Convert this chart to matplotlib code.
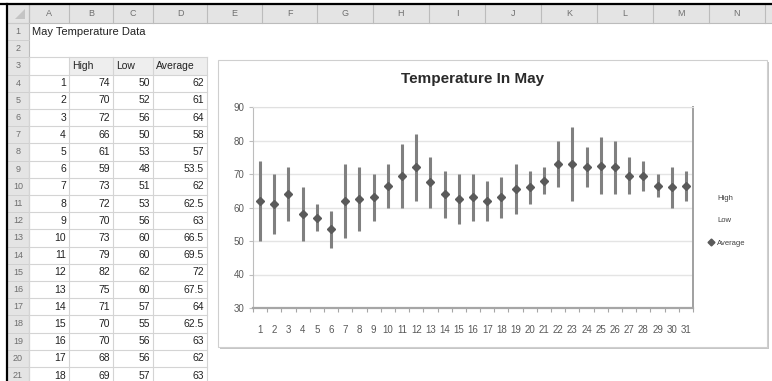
import matplotlib
matplotlib.use('Agg')
import matplotlib.pyplot as plt
from matplotlib.patches import Rectangle, Polygon
from matplotlib.lines import Line2D

plt.rcParams['font.family'] = ['Liberation Sans', 'DejaVu Sans']

days = list(range(1, 32))
high = [74, 70, 72, 66, 61, 59, 73, 72, 70, 73, 79, 82, 75, 71, 70, 70, 68, 69,
        73, 71, 72, 80, 84, 78, 81, 80, 75, 74, 70, 72, 71]
low = [50, 52, 56, 50, 53, 48, 51, 53, 56, 60, 60, 62, 60, 57, 55, 56, 56, 57,
       58, 61, 64, 66, 62, 66, 64, 64, 64, 65, 63, 60, 62]
average = [62, 61, 64, 58, 57, 53.5, 62, 62.5, 63, 66.5, 69.5, 72, 67.5, 64, 62.5, 63, 62, 63,
           65.5, 66, 68, 73, 73, 72, 72.5, 72, 69.5, 69.5, 66.5, 66, 66.5]
sheet_title = 'May Temperature Data'
headers = ['High', 'Low', 'Average']
col_letters = list('ABCDEFGHIJKLMN')
y_ticks = [30, 40, 50, 60, 70, 80, 90]
rows_visible = 18

W, H = 772, 381
fig = plt.figure(figsize=(W / 100, H / 100), dpi=100)

# spreadsheet background, drawn in pixel coordinates
bg = fig.add_axes([0, 0, 1, 1])
bg.set_xlim(0, W)
bg.set_ylim(H, 0)
bg.axis('off')

col_edges = [29, 69, 113, 153, 207, 262, 317, 373, 429, 485, 541, 597, 653, 709, 765]
hdr_top, hdr_bot = 5, 23
row_h = 17.2
def row_top(r):
    return hdr_bot + (r - 1) * row_h

grid_c = '#d4d4d4'
hdr_fill = '#e4e4e4'
txt_c = '#222222'

# column header strip and row header strip
bg.add_patch(Rectangle((7, hdr_top), W - 7, hdr_bot - hdr_top, fc=hdr_fill, ec='none'))
bg.add_patch(Rectangle((7, hdr_top), col_edges[0] - 7, H - hdr_top, fc=hdr_fill, ec='none'))
bg.add_patch(Polygon([[25, 9], [25, 19], [15, 19]], closed=True, fc='#c4c4c4', ec='none'))
for x in col_edges + [W + 5]:
    bg.plot([x, x], [hdr_top, hdr_bot], color='#bcbcbc', lw=0.8)
for i, letter in enumerate(col_letters):
    cx = (col_edges[i] + col_edges[i + 1]) / 2
    bg.text(cx, 14, letter, ha='center', va='center', fontsize=6.5, color='#6f6f6f')
bg.plot([7, W], [hdr_bot, hdr_bot], color='#bcbcbc', lw=0.8)
bg.plot([col_edges[0], col_edges[0]], [hdr_top, H], color='#bcbcbc', lw=0.8)
for r in range(1, 23):
    y = row_top(r)
    bg.plot([7, col_edges[0]], [y, y], color='#cdcdcd', lw=0.6)
    if r <= 21:
        bg.text(18, y + row_h / 2, str(r), ha='center', va='center', fontsize=6.5, color='#6f6f6f')

# screenshot frame
bg.plot([0, W], [4, 4], color='black', lw=1.6)
bg.plot([7, 7], [4, H], color='black', lw=1.6)

# sheet title
bg.text(32, row_top(1) + row_h / 2, sheet_title, ha='left', va='center', fontsize=8, color=txt_c)

# table A3:D21
t_top = row_top(3)
for j in range(1, 4):
    bg.add_patch(Rectangle((col_edges[j], t_top), col_edges[j + 1] - col_edges[j], row_h,
                           fc='#eeeeee', ec='none'))
for r in range(3, 23):
    y = row_top(r)
    bg.plot([col_edges[0], col_edges[4]], [y, y], color=grid_c, lw=0.8)
for x in col_edges[:5]:
    bg.plot([x, x], [t_top, H], color=grid_c, lw=0.8)
for j, h in enumerate(headers):
    bg.text(col_edges[j + 1] + 3, t_top + row_h / 2, h, ha='left', va='center',
            fontsize=7.5, color=txt_c)
for i in range(rows_visible):
    yc = row_top(4 + i) + row_h / 2
    vals = [days[i], high[i], low[i], average[i]]
    for j, v in enumerate(vals):
        bg.text(col_edges[j + 1] - 3, yc, f'{v:g}', ha='right', va='center',
                fontsize=7.5, color=txt_c)

# chart object frame with shadow
cx0, cy0, cx1, cy1 = 218, 60, 767, 347
bg.add_patch(Rectangle((cx0 + 2, cy0 + 2), cx1 - cx0, cy1 - cy0, fc='#c6c6c6', ec='none'))
bg.add_patch(Rectangle((cx0, cy0), cx1 - cx0, cy1 - cy0, fc='white', ec='#cfcfcf', lw=0.8))

# plot area of the chart
px0, py0, px1, py1 = 253, 107, 693, 308
ax = fig.add_axes([px0 / W, 1 - py1 / H, (px1 - px0) / W, (py1 - py0) / H])
ax.set_xlim(0.5, 31.5)
ax.set_ylim(30, 90)

ax.vlines(days, low, high, color='#808080', lw=2.2, zorder=3)
ax.plot(days, average, ls='none', marker='D', ms=4.5, color='#5a5a5a', zorder=4)

ax.set_yticks(y_ticks)
ax.yaxis.grid(True, color='#e4e4e4', lw=1)
ax.set_axisbelow(True)
ax.tick_params(axis='y', labelsize=7, colors='#595959', length=3, width=0.8, pad=3)
ax.tick_params(axis='y', color='#bdbdbd')
ax.set_xticks(days)
ax.set_xticklabels([str(d) for d in days])
ax.set_xticks([d + 0.5 for d in [0] + days], minor=True)
ax.tick_params(axis='x', which='major', length=0, labelsize=7, colors='#595959', pad=12)
ax.tick_params(axis='x', which='minor', length=3, width=0.8, color='#a6a6a6')

ax.spines['left'].set_color('#bdbdbd')
ax.spines['bottom'].set_color('#a6a6a6')
ax.spines['bottom'].set_linewidth(1.6)
ax.spines['top'].set_color('#e0e0e0')
ax.spines['right'].set_color('#a0a0a0')
ax.spines['right'].set_linewidth(1.4)

ax.set_title('Temperature In May', fontsize=11, fontweight='bold', color='#2a2a2a', pad=17)

handles = [Line2D([], [], ls='none'),
           Line2D([], [], ls='none'),
           Line2D([], [], ls='none', marker='D', ms=3.5, color='#5a5a5a')]
ax.legend(handles, ['High', 'Low', 'Average'], loc='center left',
          bbox_to_anchor=(708 / W, 1 - 220.5 / H), bbox_transform=fig.transFigure,
          frameon=False, fontsize=5.5, handlelength=0.8, handletextpad=0.4,
          labelspacing=2.0, borderpad=0, borderaxespad=0, labelcolor='#404040')

fig.savefig('out.png', dpi=100)
